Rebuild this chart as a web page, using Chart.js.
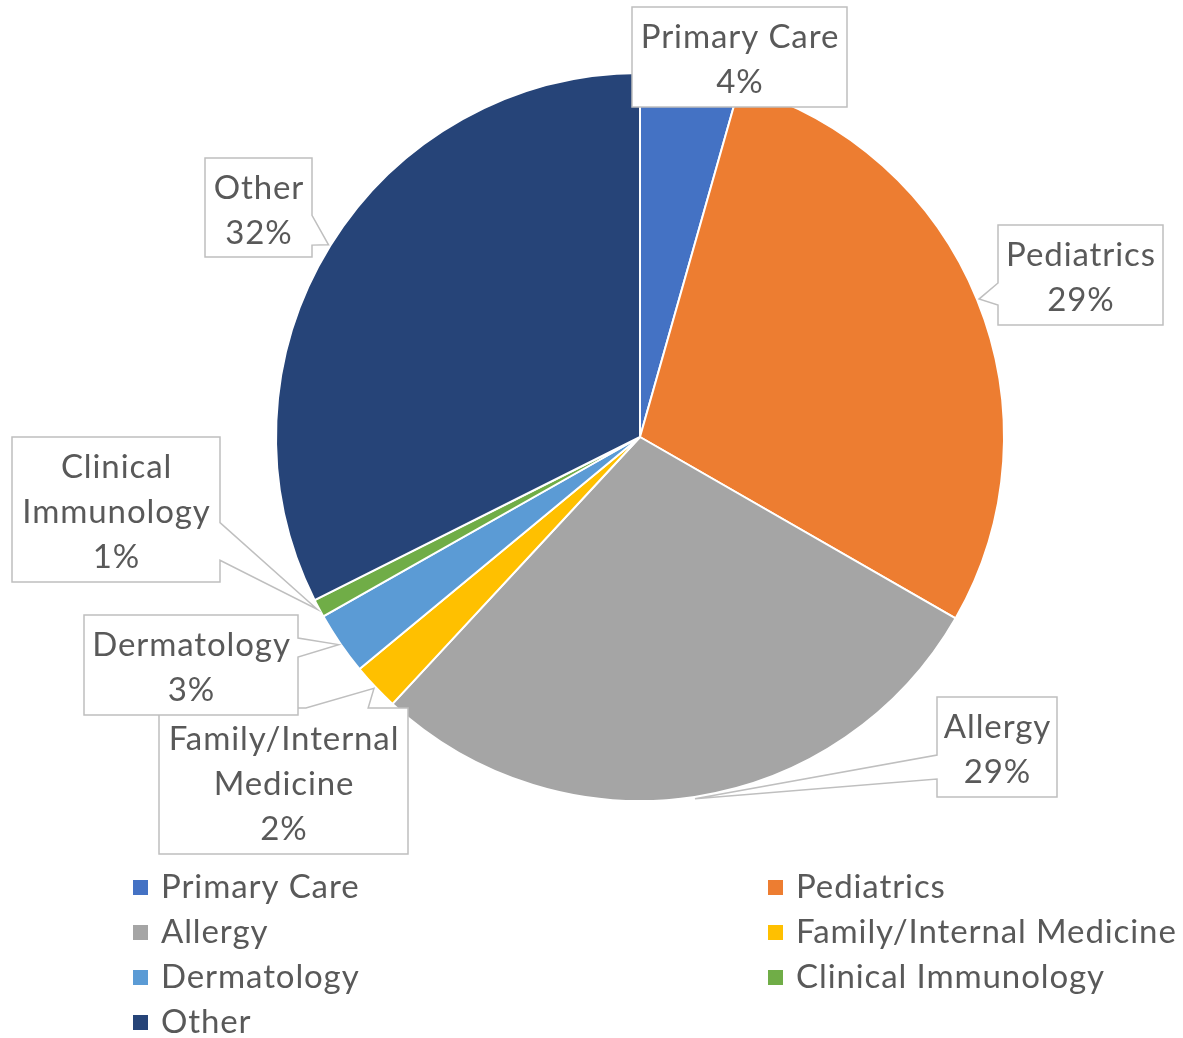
<!DOCTYPE html>
<html><head><meta charset="utf-8">
<script src="https://cdn.jsdelivr.net/npm/chart.js@4/dist/chart.umd.min.js"></script>
<style>html,body{margin:0;padding:0;background:#fff}#wrap{width:1183px;height:1038px;position:relative}</style>
</head><body><div id="wrap"><canvas id="c" width="1183" height="1038"></canvas></div>
<script>
// ---- data ----
const categories = ["Primary Care","Pediatrics","Allergy","Family/Internal Medicine","Dermatology","Clinical Immunology","Other"];
const shares = [4.4, 28.9, 28.6, 2.1, 2.8, 0.8, 32.4];
const sliceColors = ["#4472C4","#ED7D31","#A5A5A5","#FFC000","#5B9BD5","#70AD47","#264478"];

// ---- layout of callout boxes (annotation placement, not data) ----
const calloutBoxes = [
  {x:632, y:7,   w:215, h:100, side:null},
  {x:998, y:225, w:165, h:100, side:"left",  f:[0.58,0.80]},
  {x:937, y:697, w:120, h:100, side:"left",  f:[0.58,0.82]},
  {x:159, y:708, w:249, h:146, side:"top",   f:[0.59,0.84]},
  {x:84,  y:615, w:214, h:100, side:"right", f:[0.23,0.42]},
  {x:12,  y:437, w:208, h:145, side:"right", f:[0.59,0.85]},
  {x:205, y:158, w:107, h:99,  side:"right", f:[0.58,0.88]}
];
const FONT = "33px Lato";
const LETTER_SPACING = "0.9px";
const TEXT_COLOR = "#595959";

function wrapText(ctx, text, maxW){
  const words = text.split(" ");
  const lines = [];
  let cur = "";
  for (const w of words){
    const t = cur ? cur + " " + w : w;
    if (cur && ctx.measureText(t).width > maxW){ lines.push(cur); cur = w; }
    else cur = t;
  }
  if (cur) lines.push(cur);
  return lines;
}

const calloutPlugin = {
  id: "callouts",
  afterDatasetsDraw(chart){
    const ctx = chart.ctx;
    const meta = chart.getDatasetMeta(0);
    const total = shares.reduce((a,b)=>a+b,0);
    ctx.save();
    ctx.font = FONT;
    ctx.letterSpacing = LETTER_SPACING;
    meta.data.forEach((arc, i) => {
      const b = calloutBoxes[i];
      const p = arc.getProps(["x","y","startAngle","endAngle","outerRadius"], true);
      const mid = (p.startAngle + p.endAngle)/2;
      const tip = {x: p.x + Math.cos(mid)*(p.outerRadius+2), y: p.y + Math.sin(mid)*(p.outerRadius+2)};
      const {x,y,w,h} = b;
      ctx.beginPath();
      ctx.moveTo(x,y);
      if (b.side === "top"){ ctx.lineTo(x+b.f[0]*w,y); ctx.lineTo(tip.x,tip.y); ctx.lineTo(x+b.f[1]*w,y); }
      ctx.lineTo(x+w,y);
      if (b.side === "right"){ ctx.lineTo(x+w,y+b.f[0]*h); ctx.lineTo(tip.x,tip.y); ctx.lineTo(x+w,y+b.f[1]*h); }
      ctx.lineTo(x+w,y+h);
      if (b.side === "bottom"){ ctx.lineTo(x+b.f[1]*w,y+h); ctx.lineTo(tip.x,tip.y); ctx.lineTo(x+b.f[0]*w,y+h); }
      ctx.lineTo(x,y+h);
      if (b.side === "left"){ ctx.lineTo(x,y+b.f[1]*h); ctx.lineTo(tip.x,tip.y); ctx.lineTo(x,y+b.f[0]*h); }
      ctx.closePath();
      ctx.fillStyle = "#ffffff";
      ctx.fill();
      ctx.lineWidth = 1.5;
      ctx.strokeStyle = "#BFBFBF";
      ctx.stroke();
      const pct = Math.round(shares[i]/total*100) + "%";
      const lines = wrapText(ctx, chart.data.labels[i], w - 10).concat([pct]);
      ctx.fillStyle = TEXT_COLOR;
      ctx.textAlign = "center";
      ctx.textBaseline = "alphabetic";
      const n = lines.length;
      lines.forEach((ln, k) => {
        ctx.fillText(ln, x + w/2 + 0.5, y + h/2 + (k - (n-1)/2)*45 + 13.5);
      });
    });
    ctx.restore();
  }
};

const legendPlugin = {
  id: "gridLegend",
  afterDraw(chart){
    const ctx = chart.ctx;
    const colX = [133, 768];
    const firstBaseline = 898, rowGap = 45;
    ctx.save();
    ctx.font = FONT;
    ctx.letterSpacing = LETTER_SPACING;
    ctx.textAlign = "left";
    ctx.textBaseline = "alphabetic";
    chart.data.labels.forEach((lab, i) => {
      const col = i % 2, row = Math.floor(i/2);
      const bx = colX[col], base = firstBaseline + row*rowGap;
      ctx.fillStyle = chart.data.datasets[0].backgroundColor[i];
      ctx.fillRect(bx, base - 18, 15, 15);
      ctx.fillStyle = TEXT_COLOR;
      ctx.fillText(lab, bx + 28, base);
    });
    ctx.restore();
  }
};

new Chart(document.getElementById("c"), {
  type: "pie",
  data: {
    labels: categories,
    datasets: [{
      data: shares,
      backgroundColor: sliceColors,
      borderColor: "#ffffff",
      borderWidth: 2
    }]
  },
  options: {
    responsive: false,
    animation: false,
    layout: {padding: {left: 275, right: 178, top: 72, bottom: 236}},
    plugins: {legend: {display: false}, tooltip: {enabled: false}}
  },
  plugins: [calloutPlugin, legendPlugin]
});
</script></body></html>
